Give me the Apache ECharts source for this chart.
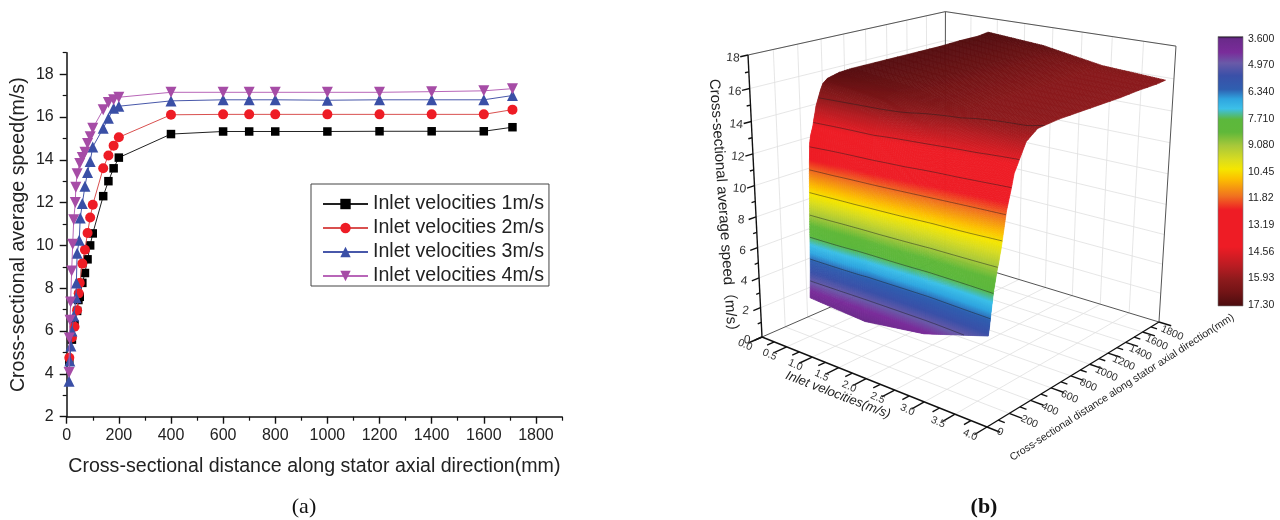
<!DOCTYPE html>
<html>
<head>
<meta charset="utf-8">
<style>html,body{margin:0;padding:0;background:#fff}#c{width:1280px;height:520px}</style>
<script src="https://cdn.jsdelivr.net/npm/echarts@6/dist/echarts.min.js"></script>
</head>
<body>
<div id="c"></div>
<script>
// ---------- panel (a) data: [distance mm, average speed m/s]
const series1 = [[10,4.6],[20,5.6],[30,6.3],[40,6.94],[45,7.45],[50,7.6],[60,8.25],[70,8.71],[80,9.35],[90,10.0],[100,10.56],[140,12.3],[160,13.0],[180,13.6],[200,14.1],[400,15.2],[600,15.32],[700,15.32],[800,15.32],[1000,15.32],[1200,15.33],[1400,15.33],[1600,15.33],[1710,15.52]];
const series2 = [[10,4.75],[20,5.7],[30,6.2],[40,6.97],[46,7.76],[50,8.25],[60,9.15],[70,9.8],[80,10.58],[90,11.3],[100,11.9],[140,13.6],[160,14.2],[180,14.66],[200,15.05],[400,16.1],[600,16.12],[700,16.12],[800,16.12],[1000,16.12],[1200,16.12],[1400,16.12],[1600,16.12],[1710,16.34]];
const series3 = [[9,3.65],[12,4.6],[16,5.3],[20,6.0],[27,6.7],[36,7.55],[37,8.25],[40,9.63],[48,10.24],[52,11.28],[60,11.96],[70,12.76],[80,13.4],[90,13.92],[100,14.6],[140,15.47],[160,15.94],[180,16.4],[200,16.5],[400,16.75],[600,16.8],[700,16.8],[800,16.8],[1000,16.78],[1200,16.8],[1400,16.8],[1600,16.8],[1710,17.0]];
const series4 = [[9,4.06],[10,5.67],[13,6.5],[15,7.36],[19,8.8],[23,10.05],[27,11.2],[33,12.0],[35,12.72],[40,13.35],[50,13.82],[60,14.1],[70,14.35],[80,14.76],[90,15.08],[100,15.47],[140,16.34],[160,16.68],[180,16.8],[200,16.92],[400,17.15],[600,17.15],[700,17.15],[800,17.15],[1000,17.15],[1200,17.15],[1400,17.18],[1600,17.22],[1710,17.32]];
const seriesNames = ['Inlet velocities 1m/s','Inlet velocities 2m/s','Inlet velocities 3m/s','Inlet velocities 4m/s'];
const xTicks = [0,200,400,600,800,1000,1200,1400,1600,1800];
const xMinor = [100,300,500,700,900,1100,1300,1500,1700,1900];
const yTicks = [2,4,6,8,10,12,14,16,18];
const yMinor = [3,5,7,9,11,13,15,17,19];

// ---------- panel (b) data
const surfaceVelocity = [1,2,3,4];
const surfaceDistance = [0,10,20,30,40,50,60,70,80,90,100,140,160,180,200,300,400,600,800,1000,1200,1400,1600,1700];
const surfaceRow1 = [3.9,5.7,9.1,11.7,13.35,13.82,14.1,14.35,14.76,15.08,15.47,16.34,16.68,16.8,16.92,17.1,17.15,17.15,17.15,17.15,17.15,17.2,17.2,17.3];
const surfaceRow2 = [3.65,4.7,6.0,6.7,9.63,10.9,11.96,12.76,13.4,13.92,14.6,15.47,15.94,16.4,16.5,16.7,16.75,16.8,16.8,16.8,16.8,16.8,16.8,17.0];
const surfaceRow3 = [4.2,4.75,5.7,6.2,6.97,8.25,9.15,9.8,10.58,11.3,11.9,13.6,14.2,14.66,15.05,15.95,16.1,16.12,16.12,16.12,16.12,16.12,16.12,16.34];
const surfaceRow4 = [5.4,5.9,6.6,7.2,7.8,8.2,8.6,9.0,9.3,9.7,10.05,12.0,12.6,13.2,13.9,15.4,15.9,16.0,16.0,16.0,16.0,16.05,16.05,16.1];
const surfaceRows = [surfaceRow1,surfaceRow2,surfaceRow3,surfaceRow4];
const colorbarTicks = [3.6,4.97,6.34,7.71,9.08,10.45,11.82,13.19,14.56,15.93,17.3];
const contourLevels = colorbarTicks.slice(1,10);
const zTicks3d = [0,2,4,6,8,10,12,14,16,18];
const vTicks3d = [0,0.5,1,1.5,2,2.5,3,3.5,4];
const dTicks3d = [0,200,400,600,800,1000,1200,1400,1600,1800];
const colorStops = [[3.47,'#111111'],[3.6,'#6a2a8a'],[4.3,'#7a2c9a'],[4.85,'#6a5aa8'],[5.5,'#3a50a8'],[6.2,'#2f5fb0'],[6.7,'#2fa5e0'],[7.2,'#3cc0e8'],[7.75,'#5cb83c'],[8.4,'#5fb83a'],[9.1,'#a8c83a'],[9.8,'#d8dc20'],[10.3,'#f5e600'],[10.8,'#fcc000'],[11.7,'#f07020'],[12.4,'#ee1c25'],[14.3,'#ee1c25'],[15.3,'#b81c22'],[16.0,'#8c1a1c'],[16.6,'#741416'],[17.35,'#4a0c0e']];

// ---------- perspective used for the 3-D box (homogeneous corner points)
const view = {o:[762,337],u:[987,427],w:[945,257],t:[748,55],a:0.8623,b:1.1622,c:0.9266};
function project(v,d,z){
  const u=v/4,w=d/1800,t=z/18,o=view.o;
  const den=1+u*(view.a-1)+w*(view.b-1)+t*(view.c-1);
  const f=i=>(o[i]+u*(view.a*view.u[i]-o[i])+w*(view.b*view.w[i]-o[i])+t*(view.c*view.t[i]-o[i]))/den;
  return [f(0),f(1)];
}
function hex2rgb(h){return [parseInt(h.slice(1,3),16),parseInt(h.slice(3,5),16),parseInt(h.slice(5,7),16)];}
function colorAt(z){
  const s=colorStops;
  if(z<=s[0][0])return s[0][1];
  for(let i=1;i<s.length;i++){
    if(z<=s[i][0]){
      const k=(z-s[i-1][0])/(s[i][0]-s[i-1][0]),a=hex2rgb(s[i-1][1]),b=hex2rgb(s[i][1]);
      return 'rgb('+a.map((c,j)=>Math.round(c+(b[j]-c)*k)).join(',')+')';
    }
  }
  return s[s.length-1][1];
}
// surface value at a fractional row position and a distance index
function rowValue(r,j){
  const i=Math.min(Math.floor(r),surfaceRows.length-2),k=r-i;
  return surfaceRows[i][j]*(1-k)+surfaceRows[i+1][j]*k;
}
// ---------- line segments of the box
const segs=[]; // v1,d1,z1,v2,d2,z2,kind
zTicks3d.forEach(z=>{ if(z>0&&z<=18){segs.push([0,0,z,0,1800,z,'grid']);segs.push([0,1800,z,4,1800,z,'grid']);} });
vTicks3d.forEach(v=>{ if(v>0&&v<4){segs.push([v,0,0,v,1800,0,'grid']);segs.push([v,1800,0,v,1800,18,'grid']);} });
dTicks3d.forEach(d=>{ if(d>0&&d<1800){segs.push([0,d,0,4,d,0,'grid']);segs.push([0,d,0,0,d,18,'grid']);} });
segs.push([0,0,18,0,1800,18,'box'],[0,1800,18,4,1800,18,'box'],[4,1800,18,4,1800,0,'box'],[0,1800,0,0,1800,18,'box'],[0,1800,0,4,1800,0,'box'],[0,0,0,0,1800,0,'box']);
const axisSegs=[[0,0,0,0,0,18,'axis'],[0,0,0,4,0,0,'axis'],[4,0,0,4,1800,0,'axis']];
zTicks3d.forEach(z=>axisSegs.push([0,0,z,0,-60,z,'axis']));
[1,3,5,7,9,11,13,15,17].forEach(z=>axisSegs.push([0,0,z,0,-30,z,'axis']));
vTicks3d.forEach(v=>axisSegs.push([v,0,0,v,-110,0,'axis']));
[0.25,0.75,1.25,1.75,2.25,2.75,3.25,3.75].forEach(v=>axisSegs.push([v,0,0,v,-60,0,'axis']));
dTicks3d.forEach(d=>axisSegs.push([4,d,0,4.2,d,0,'axis']));
[100,300,500,700,900,1100,1300,1500,1700].forEach(d=>axisSegs.push([4,d,0,4.1,d,0,'axis']));
const segStyle={grid:{stroke:'#dfdfdf',lineWidth:0.8},box:{stroke:'#555',lineWidth:1},axis:{stroke:'#111',lineWidth:1.4}};

function segRender(list){return function(p,api){
  const s=list[p.dataIndex],a=api.coord(project(s[0],s[1],s[2])),b=api.coord(project(s[3],s[4],s[5]));
  return {type:'line',shape:{x1:a[0],y1:a[1],x2:b[0],y2:b[1]},style:Object.assign({fill:null},segStyle[s[6]]),silent:true};
};}
// tick labels of the box
const labels3d=[];
zTicks3d.forEach(z=>labels3d.push({p:[0,0,z],t:String(z),dx:-15,dy:3,r:-5,s:12}));
vTicks3d.forEach(v=>labels3d.push({p:[v,0,0],t:v.toFixed(1),dx:-17,dy:8,r:-24,s:10.5}));
dTicks3d.forEach(d=>labels3d.push({p:[4,d,0],t:String(d),dx:d<200?13:(21-8*d/1800),dy:d<200?5:(8+3*d/1800),r:-24,s:10.5}));

const cells=[];
for(let j=surfaceDistance.length-2;j>=0;j--)for(let i=0;i<surfaceRows.length-1;i++)cells.push([i,j]);
const SUBV=30;
function renderCell(p,api){
  const c=cells[p.dataIndex],i=c[0],j=c[1];
  const children=[];
  const dv=Math.max(...surfaceRows.map(r=>Math.abs(r[j+1]-r[j])));
  const subD=Math.max(2,Math.ceil(dv/0.1));
  for(let m=subD-1;m>=0;m--){
    for(let n=0;n<SUBV;n++){
      const r0=i+n/SUBV,r1=i+(n+1)/SUBV,k0=m/subD,k1=(m+1)/subD;
      const d0=surfaceDistance[j]+(surfaceDistance[j+1]-surfaceDistance[j])*k0;
      const d1=surfaceDistance[j]+(surfaceDistance[j+1]-surfaceDistance[j])*k1;
      const zz=(r,k)=>rowValue(r,j)*(1-k)+rowValue(r,j+1)*k;
      const v0=surfaceVelocity[0]+r0,v1=surfaceVelocity[0]+r1;
      const pts=[api.coord(project(v0,d0,zz(r0,k0))),api.coord(project(v1,d0,zz(r1,k0))),api.coord(project(v1,d1,zz(r1,k1))),api.coord(project(v0,d1,zz(r0,k1)))];
      const col=colorAt((zz(r0,k0)+zz(r1,k0)+zz(r1,k1)+zz(r0,k1))/4);
      children.push({type:'polygon',shape:{points:pts},style:{fill:col,stroke:col,lineWidth:0.7},silent:true});
    }
  }
  return {type:'group',children:children,silent:true};
}
function renderContour(p,api){
  const L=contourLevels[p.dataIndex],lines=[];let cur=null;
  const N=90;
  for(let q=0;q<=N;q++){
    const r=(surfaceRows.length-1)*q/N;let found=null;
    for(let j=0;j<surfaceDistance.length-1;j++){
      const a=rowValue(r,j),b=rowValue(r,j+1);
      if(a<=L&&b>=L&&b>a){
        const k=(L-a)/(b-a);
        found=api.coord(project(surfaceVelocity[0]+r,surfaceDistance[j]+(surfaceDistance[j+1]-surfaceDistance[j])*k,L));
        break;
      }
    }
    if(found){if(!cur){cur=[];lines.push(cur);}cur.push(found);}else cur=null;
  }
  return {type:'group',silent:true,children:lines.map(l=>({type:'polyline',shape:{points:l},style:{fill:null,stroke:'rgba(30,30,30,0.6)',lineWidth:0.8},silent:true}))};
}
function renderLabel(p,api){
  const l=labels3d[p.dataIndex],a=api.coord(project(l.p[0],l.p[1],l.p[2]));
  return {type:'text',x:a[0]+l.dx,y:a[1]+l.dy,rotation:l.r*Math.PI/180,silent:true,
    style:{text:l.t,fontSize:l.s,fontFamily:'"Liberation Sans",Arial,sans-serif',fill:'#333',align:'center',verticalAlign:'middle'}};
}
const FONT='"Liberation Sans",Arial,sans-serif';
const markerDown='path://M0,0 L10,0 L5,10 Z';
const lineStyles=[
 {c:'#000',l:'#222',s:'rect',z:8.5},
 {c:'#ee1c25',l:'#d9504f',s:'circle',z:10},
 {c:'#3a4fa6',l:'#4858aa',s:'triangle',z:11},
 {c:'#a64ca6',l:'#b866b8',s:markerDown,z:11}];
const allSeries=[series1,series2,series3,series4];
const chart=echarts.init(document.getElementById('c'));
const axisLine={lineStyle:{color:'#111',width:1.5}};
const gradientBar=colorStops.map(s=>({offset:(s[0]-colorStops[0][0])/(colorStops[colorStops.length-1][0]-colorStops[0][0]),color:s[1]}));
chart.setOption({
 animation:false,
 backgroundColor:'#fff',
 legend:{orient:'vertical',left:311,top:184,padding:[10,5,0,11],itemWidth:45,itemHeight:13,itemGap:4,
   borderColor:'#444',borderWidth:1,backgroundColor:'#fff',
   textStyle:{fontFamily:FONT,fontSize:19.6,color:'#222',lineHeight:20},data:seriesNames,z:20},
 grid:[
  {left:66.7,top:52.7,width:495.3,height:364,containLabel:false},
  {left:0,top:0,width:1280,height:520},
  {left:1218,top:39,width:25,height:266}
 ],
 xAxis:[
  {gridIndex:0,type:'value',min:0,max:1900,position:'bottom',axisLine:axisLine,splitLine:{show:false},
   axisTick:{length:7,customValues:xTicks,lineStyle:{color:'#111',width:1.4}},
   axisLabel:{customValues:xTicks,fontFamily:FONT,fontSize:16,color:'#222',margin:11,formatter:v=>String(v)},
   name:'Cross-sectional distance along stator axial direction(mm)',nameLocation:'middle',nameGap:40,
   nameTextStyle:{fontFamily:FONT,fontSize:19.6,color:'#222'}},
  {gridIndex:0,type:'value',min:0,max:1900,position:'bottom',axisLine:{show:false},splitLine:{show:false},
   axisTick:{length:4,customValues:xMinor,lineStyle:{color:'#111',width:1.2}},axisLabel:{show:false}},
  {gridIndex:1,type:'value',min:0,max:1280,show:false},
  {gridIndex:2,type:'value',min:0,max:1,show:false}
 ],
 yAxis:[
  {gridIndex:0,type:'value',min:2,max:19,position:'left',axisLine:axisLine,splitLine:{show:false},
   axisTick:{length:7,customValues:yTicks,lineStyle:{color:'#111',width:1.4}},
   axisLabel:{customValues:yTicks,fontFamily:FONT,fontSize:16,color:'#222',margin:13,formatter:v=>String(v)},
   name:'Cross-sectional average speed(m/s)',nameLocation:'middle',nameGap:38,
   nameTextStyle:{fontFamily:FONT,fontSize:19.6,color:'#222'}},
  {gridIndex:0,type:'value',min:2,max:19,position:'left',axisLine:{show:false},splitLine:{show:false},
   axisTick:{length:4,customValues:yMinor,lineStyle:{color:'#111',width:1.2}},axisLabel:{show:false}},
  {gridIndex:1,type:'value',min:0,max:520,inverse:true,show:false},
  {gridIndex:2,type:'value',min:3.6,max:17.3,inverse:true,position:'right',axisLine:{show:false},axisTick:{show:false},splitLine:{show:false},
   axisLabel:{customValues:colorbarTicks,margin:5,fontFamily:FONT,fontSize:10.5,color:'#222',formatter:v=>Number(v).toPrecision(4)}}
 ],
 series:[
  {type:'custom',name:'box',xAxisIndex:2,yAxisIndex:2,coordinateSystem:'cartesian2d',data:segs.map((s,i)=>[i]),renderItem:segRender(segs),clip:false,z:1,silent:true},
  {type:'custom',name:'surface',xAxisIndex:2,yAxisIndex:2,coordinateSystem:'cartesian2d',data:cells,renderItem:renderCell,clip:false,z:2,silent:true},
  {type:'custom',name:'contours',xAxisIndex:2,yAxisIndex:2,coordinateSystem:'cartesian2d',data:contourLevels.map(l=>[l]),renderItem:renderContour,clip:false,z:3,silent:true},
  {type:'custom',name:'axes3d',xAxisIndex:2,yAxisIndex:2,coordinateSystem:'cartesian2d',data:axisSegs.map((s,i)=>[i]),renderItem:segRender(axisSegs),clip:false,z:4,silent:true},
  {type:'custom',name:'labels3d',xAxisIndex:2,yAxisIndex:2,coordinateSystem:'cartesian2d',data:labels3d.map((s,i)=>[i]),renderItem:renderLabel,clip:false,z:5,silent:true},
  {type:'custom',name:'colorbar',xAxisIndex:3,yAxisIndex:3,coordinateSystem:'cartesian2d',data:[[0]],clip:false,z:5,silent:true,
   renderItem:function(p,api){
     const a=api.coord([0,colorStops[0][0]]),b=api.coord([1,colorStops[colorStops.length-1][0]]);
     return {type:'rect',shape:{x:a[0],y:a[1],width:b[0]-a[0],height:b[1]-a[1]},silent:true,
       style:{fill:new echarts.graphic.LinearGradient(0,0,0,1,gradientBar),stroke:'#777',lineWidth:0.6}};
   }},
  ...allSeries.map((d,i)=>({type:'line',name:seriesNames[i],xAxisIndex:0,yAxisIndex:0,data:d,
    symbol:lineStyles[i].s,symbolSize:lineStyles[i].z,showSymbol:true,showAllSymbol:true,
    lineStyle:{color:lineStyles[i].l,width:1},itemStyle:{color:lineStyles[i].c},z:10+i,clip:false,silent:true}))
 ],
 graphic:[
  {type:'text',x:304,y:507,silent:true,style:{text:'(a)',fontFamily:'"Liberation Serif",serif',fontSize:22,fill:'#111',align:'center',verticalAlign:'middle'}},
  {type:'text',x:984,y:507,silent:true,style:{text:'(b)',fontFamily:'"Liberation Serif",serif',fontSize:22,fontWeight:'bold',fill:'#111',align:'center',verticalAlign:'middle'}},
  {type:'text',x:723,y:209,rotation:-86*Math.PI/180,silent:true,style:{text:'Cross-sectional average speed（m/s）',fontFamily:'"Liberation Sans","Noto Sans CJK SC",sans-serif',fontSize:15,fill:'#222',align:'center',verticalAlign:'middle'}},
  {type:'text',x:838,y:395,rotation:-21*Math.PI/180,silent:true,style:{text:'Inlet velocities(m/s)',fontFamily:FONT,fontStyle:'italic',fontSize:13,fill:'#222',align:'center',verticalAlign:'middle'}},
  {type:'text',x:1122,y:387.5,rotation:32.6*Math.PI/180,silent:true,style:{text:'Cross-sectional distance along stator axial direction(mm)',fontFamily:FONT,fontSize:10.5,fill:'#222',align:'center',verticalAlign:'middle'}}
 ]
});
</script>
</body>
</html>
